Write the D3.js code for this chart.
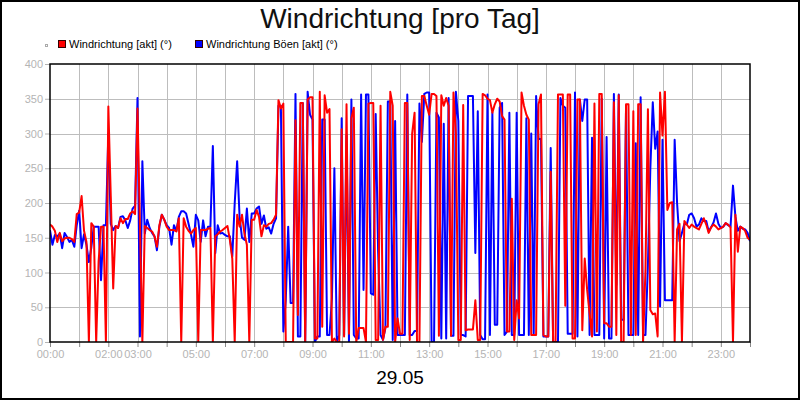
<!DOCTYPE html>
<html>
<head>
<meta charset="utf-8">
<script src="https://cdn.jsdelivr.net/npm/d3@7/dist/d3.min.js"></script>
<style>
    body { margin: 0; background: #fff; }
    svg { display: block; font-family: "Liberation Sans", Arial, sans-serif; }
</style>
</head>
<body>
<div id="chart"></div>
<script>
const chartTitle = "Windrichtung [pro Tag]";
const dayLabel = "29.05";
const seriesNames = ["Windrichtung [akt] (°)", "Windrichtung Böen [akt] (°)"];
const seriesColors = ["#ff0000", "#0000ff"];

// one value every 5 minutes, 00:00 .. 24:00
const stepMinutes = 5;
const windDir = [
    169,166,160,144,157,145,149,150,150,148,144,184,
    186,210,160,144,0,171,166,0,116,166,166,0,
    339,210,77,167,164,178,171,177,177,185,188,184,
    336,170,0,167,164,161,159,152,137,168,183,176,
    166,161,161,161,159,178,0,178,166,160,156,161,
    164,0,161,161,161,163,164,0,152,155,159,161,
    164,167,147,120,0,183,166,183,156,140,0,176,
    176,190,180,152,168,166,170,171,176,183,348,336,
    343,0,0,0,0,319,39,344,344,0,349,352,
    352,5,5,360,22,355,330,335,0,5,0,0,
    306,8,342,12,322,337,0,20,20,20,0,343,
    344,344,3,3,340,3,22,22,360,340,0,34,
    12,12,344,344,3,300,330,0,0,354,354,340,
    327,357,357,354,9,355,340,351,340,9,359,300,
    3,3,341,17,18,18,18,60,3,3,357,355,
    350,348,330,342,350,346,325,320,15,15,206,3,
    60,34,359,340,327,320,10,10,10,342,356,10,
    8,8,245,0,0,356,356,356,52,356,356,5,
    5,349,349,17,120,75,41,8,343,15,357,357,
    27,27,22,22,345,10,355,0,0,342,342,10,
    332,10,342,342,0,104,335,46,40,41,8,359,
    297,360,190,200,201,0,162,170,0,174,169,164,
    169,166,164,162,170,178,169,157,165,169,166,162,
    164,166,171,169,165,0,183,130,166,164,160,150,
    147
];
const gustDir = [
    161,140,154,152,156,135,157,151,144,147,137,168,
    189,135,155,140,115,136,166,166,166,89,168,168,
    300,170,161,167,164,180,181,175,164,175,192,196,
    351,8,260,156,176,164,157,152,132,166,183,176,
    168,164,140,168,160,180,188,188,185,170,155,137,
    183,175,144,175,152,166,166,282,128,168,156,157,
    154,152,152,123,200,260,180,150,147,192,144,185,
    185,192,195,170,182,163,165,156,170,178,340,340,
    15,60,166,56,56,357,8,8,344,0,360,327,
    320,0,8,8,320,320,10,10,63,250,0,10,
    322,10,298,0,349,10,5,5,356,75,356,356,
    70,68,328,130,10,3,20,346,346,3,318,10,
    10,10,10,356,10,10,16,16,343,288,357,359,
    359,0,0,330,323,5,314,5,351,9,9,360,
    318,10,10,8,354,354,354,128,332,10,4,4,
    356,10,330,25,25,337,344,10,15,330,10,10,
    330,10,10,10,322,10,300,10,354,292,292,8,
    8,8,279,0,0,0,351,340,337,12,12,12,
    359,8,349,318,349,349,10,294,10,10,10,350,
    5,295,5,5,357,82,356,32,32,339,10,10,
    10,286,10,352,10,10,111,250,345,278,303,51,
    291,60,60,60,60,291,200,145,157,170,169,183,
    185,178,166,169,178,174,174,159,165,172,185,170,
    164,166,171,168,166,225,180,160,166,163,162,157,
    145
];
const yTicks = [0, 50, 100, 150, 200, 250, 300, 350, 400];
const xLabelHours = [0, 2, 3, 5, 7, 9, 11, 13, 15, 17, 19, 21, 23];

const width = 800, height = 400;
const plotMargin = {top: 64, right: 50, bottom: 58, left: 50};
const plotWidth = width - plotMargin.left - plotMargin.right;
const plotHeight = height - plotMargin.top - plotMargin.bottom;
const gridColor = "#bdbdbd";
const labelColor = "#b4b4b4";

const svg = d3.select("#chart")
    .append("svg")
    .attr("width", width)
    .attr("height", height);

svg.append("rect")
    .attr("x", 1).attr("y", 1)
    .attr("width", width - 2).attr("height", height - 2)
    .attr("fill", "#fff")
    .attr("stroke", "#000")
    .attr("stroke-width", 2);

svg.append("text")
    .attr("x", width / 2)
    .attr("y", 28)
    .attr("text-anchor", "middle")
    .attr("font-size", 28)
    .attr("fill", "#111")
    .text(chartTitle);

// legend
svg.append("rect")
    .attr("x", 45.5).attr("y", 44.5)
    .attr("width", 2).attr("height", 2)
    .attr("fill", "none")
    .attr("stroke", "#aaa");

const legendX = [58, 195];
seriesNames.forEach((name, i) => {
    svg.append("rect")
        .attr("x", legendX[i] + 0.5).attr("y", 40.5)
        .attr("width", 7).attr("height", 7)
        .attr("fill", seriesColors[i])
        .attr("stroke", "#300")
        .attr("stroke-width", 1);
    svg.append("text")
        .attr("x", legendX[i] + 11)
        .attr("y", 48)
        .attr("font-size", 11)
        .attr("fill", "#000")
        .text(name);
});

const g = svg.append("g")
    .attr("transform", `translate(${plotMargin.left},${plotMargin.top})`);

const x = d3.scaleLinear()
    .domain([0, 24 * 60])
    .range([0, plotWidth]);

const y = d3.scaleLinear()
    .domain([0, 400])
    .range([plotHeight, 0]);

// grid lines
g.append("g")
    .selectAll("line")
    .data(d3.range(1, 24))
    .join("line")
    .attr("x1", h => Math.round(x(h * 60)) + 0.5)
    .attr("x2", h => Math.round(x(h * 60)) + 0.5)
    .attr("y1", 0)
    .attr("y2", plotHeight)
    .attr("stroke", gridColor);

g.append("g")
    .selectAll("line")
    .data(yTicks.slice(1, -1))
    .join("line")
    .attr("x1", 0)
    .attr("x2", plotWidth)
    .attr("y1", v => Math.round(y(v)) + 0.5)
    .attr("y2", v => Math.round(y(v)) + 0.5)
    .attr("stroke", gridColor);

// axes
const yAxis = g.append("g")
    .call(d3.axisLeft(y).tickValues(yTicks).tickSize(5).tickPadding(2));
yAxis.select(".domain").remove();
yAxis.selectAll(".tick line").attr("stroke", labelColor);
yAxis.selectAll(".tick text")
    .attr("fill", labelColor)
    .attr("font-size", 11)
    .attr("font-family", "Liberation Sans, Arial, sans-serif");

const xAxis = g.append("g")
    .attr("transform", `translate(0,${plotHeight})`)
    .call(d3.axisBottom(x)
        .tickValues(d3.range(0, 25).map(h => h * 60))
        .tickSize(5)
        .tickPadding(3)
        .tickFormat(m => xLabelHours.includes(m / 60) ? d3.format("02d")(m / 60) + ":00" : ""));
xAxis.select(".domain").remove();
xAxis.selectAll(".tick line").attr("stroke", "#888");
xAxis.selectAll(".tick text")
    .attr("fill", labelColor)
    .attr("font-size", 11)
    .attr("font-family", "Liberation Sans, Arial, sans-serif");

// data lines
g.append("clipPath")
    .attr("id", "plot-clip")
    .append("rect")
    .attr("width", plotWidth)
    .attr("height", plotHeight);

const line = d3.line()
    .x((d, i) => x(i * stepMinutes))
    .y(d => y(d));

[gustDir, windDir].forEach((series, k) => {
    g.append("path")
        .datum(series)
        .attr("clip-path", "url(#plot-clip)")
        .attr("fill", "none")
        .attr("stroke", k === 0 ? seriesColors[1] : seriesColors[0])
        .attr("stroke-width", 2)
        .attr("stroke-linejoin", "round")
        .attr("d", line);
});

// plot frame
g.append("rect")
    .attr("width", plotWidth)
    .attr("height", plotHeight)
    .attr("fill", "none")
    .attr("stroke", "#000")
    .attr("stroke-width", 1.5);

svg.append("text")
    .attr("x", width / 2)
    .attr("y", 384)
    .attr("text-anchor", "middle")
    .attr("font-size", 19)
    .attr("fill", "#000")
    .text(dayLabel);
</script>
</body>
</html>
